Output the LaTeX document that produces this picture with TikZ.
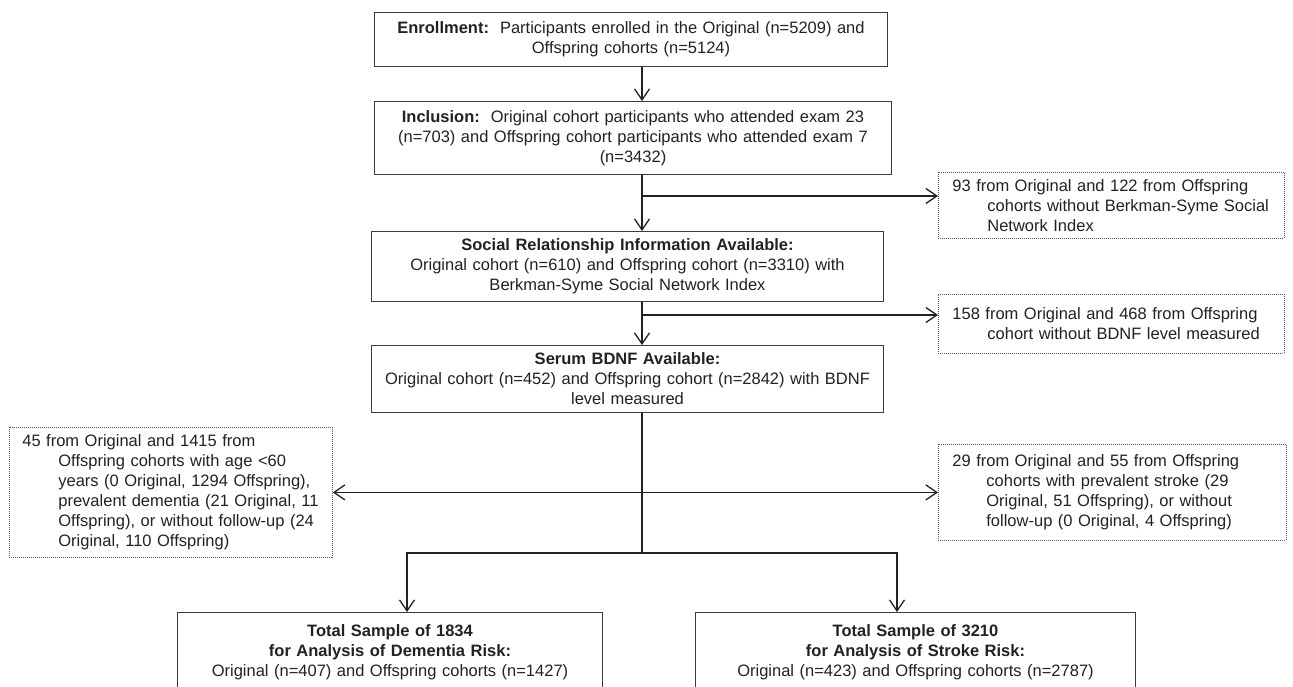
\documentclass[tikz,border=0pt]{standalone}
\usepackage{fontspec}
\setmainfont{Liberation Sans}
\usetikzlibrary{arrows.meta}
\definecolor{ink}{RGB}{34,34,34}
\definecolor{boxline}{RGB}{60,60,60}
\definecolor{dotline}{RGB}{90,90,90}
\setlength{\parindent}{0pt}
\begin{document}
\begin{tikzpicture}[x=1pt,y=-1pt,
  >={Straight Barb[length=11pt,width=15pt,line width=1.3pt]},
  every node/.style={font=\fontsize{16.5}{20}\selectfont, text=ink},
  solidbox/.style={draw=boxline, line width=1pt, anchor=north west, inner sep=0pt, align=center},
  dotbox/.style={draw=dotline, line width=0.8pt, dash pattern=on 1pt off 1pt, anchor=north west, inner ysep=0pt, inner xsep=14pt, align=left},
  conn/.style={draw=ink, line width=1.4pt}
]
\useasboundingbox (0,0) rectangle (1293,686);
\fill[white] (0,0) rectangle (1293,686);

\coordinate (tk) at (642,0);
\coordinate (j1) at (642,196);
\coordinate (j2) at (642,315);
\coordinate (j4) at (642,553);
\coordinate (dA) at (407,553);
\coordinate (sA) at (897,553);

\node[solidbox, text width=513pt, minimum height=54pt] (enr) at (374,12)
  {\textbf{Enrollment:}\ \ Participants enrolled in the Original (n=5209) and\\Offspring cohorts (n=5124)};
\node[solidbox, text width=517pt, minimum height=73pt] (inc) at (374,101)
  {\textbf{Inclusion:}\ \ Original cohort participants who attended exam 23\\(n=703) and Offspring cohort participants who attended exam 7\\(n=3432)};
\node[solidbox, text width=512pt, minimum height=70pt] (soc) at (371,231)
  {\textbf{Social Relationship Information Available:}\\Original cohort (n=610) and Offspring cohort (n=3310) with\\Berkman-Syme Social Network Index};
\node[solidbox, text width=512pt, minimum height=67pt] (bd) at (371,345)
  {\textbf{Serum BDNF Available:}\\Original cohort (n=452) and Offspring cohort (n=2842) with BDNF\\level measured};

\node[dotbox, text width=318pt, minimum height=66pt] (ex1) at (938,172)
  {93 from Original and 122 from Offspring\\\hspace*{35pt}cohorts without Berkman-Syme Social\\\hspace*{35pt}Network Index};
\node[dotbox, text width=318pt, minimum height=59pt] (ex2) at (938,294)
  {158 from Original and 468 from Offspring\\\hspace*{35pt}cohort without BDNF level measured};
\node[dotbox, inner xsep=13pt, text width=297pt, minimum height=130pt] (exL) at (9,427)
  {45 from Original and 1415 from\\\hspace*{36pt}Offspring cohorts with age <60\\\hspace*{36pt}years (0 Original, 1294 Offspring),\\\hspace*{36pt}prevalent dementia (21 Original, 11\\\hspace*{36pt}Offspring), or without follow-up (24\\\hspace*{36pt}Original, 110 Offspring)};
\node[dotbox, text width=320pt, minimum height=96pt] (ex3) at (938,444)
  {29 from Original and 55 from Offspring\\\hspace*{34pt}cohorts with prevalent stroke (29\\\hspace*{34pt}Original, 51 Offspring), or without\\\hspace*{34pt}follow-up (0 Original, 4 Offspring)};

\node[solidbox, text width=425pt, minimum height=80pt] (dem) at (177,612)
  {\textbf{Total Sample of 1834}\\\textbf{for Analysis of Dementia Risk:}\\Original (n=407) and Offspring cohorts (n=1427)};
\node[solidbox, text width=440pt, minimum height=80pt] (str) at (695,612)
  {\textbf{Total Sample of 3210}\\\textbf{for Analysis of Stroke Risk:}\\Original (n=423) and Offspring cohorts (n=2787)};

\draw[conn,->] (enr.south -| tk) -- (inc.north -| tk);
\draw[conn,->] (inc.south -| tk) -- (soc.north -| tk);
\draw[conn,->] (j1) -- (j1 -| ex1.west);
\draw[conn,->] (soc.south -| tk) -- (bd.north -| tk);
\draw[conn,->] (j2) -- (j2 -| ex2.west);
\draw[conn] (bd.south -| tk) -- (j4);
\draw[conn,<->] (exL.east) -- (exL.east -| ex3.west);
\draw[conn,->] (j4) -- (dA) -- (dA |- dem.north);
\draw[conn,->] (j4) -- (sA) -- (sA |- str.north);
\end{tikzpicture}
\end{document}
